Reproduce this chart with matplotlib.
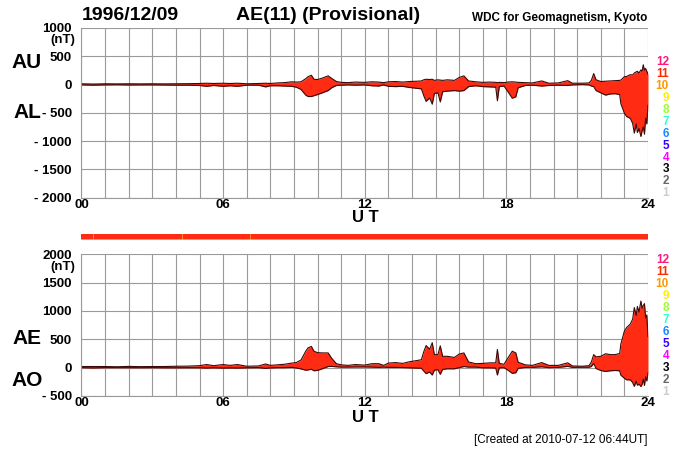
import matplotlib
matplotlib.use("Agg")
import matplotlib.pyplot as plt
import numpy as np

plt.rcParams['font.family'] = ['Liberation Sans', 'DejaVu Sans']

# --- data (UT hours, nT) ---
hours = [0.0, 0.5, 1.0, 1.5, 2.0, 2.5, 3.0, 3.5, 4.0, 4.5, 5.0, 5.3, 5.6, 6.0, 6.3,
         6.6, 7.0, 7.5, 7.8, 8.0, 8.3, 8.6, 8.9, 9.1, 9.3, 9.5, 9.6, 9.74, 9.85, 10.0,
         10.2, 10.45, 10.6, 10.8, 11.0, 11.3, 11.6, 12.0, 12.3, 12.6, 12.8, 13.0, 13.3, 13.6, 13.9,
         14.2, 14.4, 14.5, 14.6, 14.75, 14.86, 14.95, 15.1, 15.2, 15.3, 15.5, 15.8, 16.0, 16.2,
         16.4, 16.7, 17.0, 17.3, 17.55, 17.62, 17.7, 17.9, 18.05, 18.25, 18.4, 18.5, 18.8, 19.1,
         19.5, 19.8, 20.2, 20.6, 20.8, 21.2, 21.5, 21.6, 21.7, 21.8, 22.0, 22.2, 22.4, 22.6,
         22.8, 22.85, 23.0, 23.1, 23.25, 23.35, 23.42, 23.5, 23.55, 23.62, 23.7, 23.75, 23.8,
         23.85, 23.9, 23.95, 24.0]
au = [10, 5, 10, 8, 10, 8, 10, 8, 10, 12, 15, 20, 15, 20, 15,
      20, 10, 15, 20, 15, 25, 30, 45, 40, 45, 100, 135, 160, 90, 85,
      110, 150, 105, 50, 35, 30, 40, 35, 45, 40, 30, 45, 50, 40, 50,
      55, 60, 80, 90, 85, 90, 70, 80, 75, 70, 80, 70, 120, 150,
      60, 45, 35, 40, 35, 30, 35, 30, 40, 45, 40, 35, 30, 25,
      60, 20, 25, 65, 20, 20, 25, 70, 190, 80, 50, 55, 60, 65,
      70, 75, 135, 140, 170, 165, 200, 220, 230, 200, 255, 230, 345,
      250, 280, 230, 180]
al = [-10, -15, -10, -8, -12, -10, -10, -12, -15, -15, -20, -35, -20, -35, -25,
      -35, -15, -15, -45, -25, -25, -30, -35, -50, -90, -190, -215, -215, -200, -180,
      -150, -110, -60, -20, -15, -10, -15, -10, -25, -30, -10, -35, -40, -35, -55,
      -70, -80, -200, -300, -240, -350, -160, -150, -310, -130, -120, -110, -120, -110,
      -40, -25, -40, -45, -50, -290, -40, -30, -120, -245, -220, -60, -20, -15,
      -30, -20, -15, -20, -10, -5, -10, -30, -40, -110, -150, -190, -170, -165,
      -180, -340, -510, -570, -600, -690, -860, -700, -850, -780, -920, -820, -750,
      -880, -600, -700, -370]

ae = np.array(au) - np.array(al)
ao = (np.array(au) + np.array(al)) / 2

top_ticks = [1000, 500, 0, -500, -1000, -1500, -2000]
bot_ticks = [2000, 1500, 1000, 500, 0, -500]
x_ticks = [0, 6, 12, 18, 24]
x_labels = ['00', '06', '12', '18', '24']
level_labels = ['12', '11', '10', '9', '8', '7', '6', '5', '4', '3', '2', '1']
level_colors = ['#ff1a80', '#ff2a00', '#ff9900', '#ffee00', '#99ff33', '#33ffcc',
                '#1a8cff', '#3300ff', '#ff00ff', '#000000', '#666666', '#cccccc']
flag_hours = [0.49, 4.25, 7.13]

fill_c = '#ff2b12'
edge_c = '#3a0808'
grid_c = '#9a9a9a'


def ylab(v):
    return f"- {abs(v)}" if v < 0 else str(v)


def setup(ax, ticks):
    ax.set_xlim(0, 24)
    ax.set_ylim(ticks[-1], ticks[0])
    ax.set_xticks(x_ticks)
    ax.set_xticklabels(x_labels, fontsize=9.5, fontweight='bold')
    ax.set_xticks(range(25), minor=True)
    ax.set_yticks(ticks)
    ax.set_yticklabels([ylab(v) for v in ticks], fontsize=9.5, fontweight='bold')
    ax.tick_params(which='both', length=0)
    ax.tick_params(axis='y', pad=7)
    ax.tick_params(axis='x', pad=1)
    ax.grid(True, which='both', axis='x', color=grid_c, lw=0.8)
    ax.grid(True, which='major', axis='y', color=grid_c, lw=0.8)
    for s in ax.spines.values():
        s.set_color(grid_c)
    ax.spines['top'].set_visible(False)
    ax.spines['right'].set_visible(False)
    ax.set_axisbelow(True)


fig = plt.figure(figsize=(7, 4.5), dpi=100)

# top panel: AU / AL
ax1 = fig.add_axes([0.1164, 0.5607, 0.8093, 0.3778])
setup(ax1, top_ticks)
ax1.fill_between(hours, al, au, color=fill_c, lw=0)
ax1.plot(hours, au, color=edge_c, lw=0.8)
ax1.plot(hours, al, color=edge_c, lw=0.8)

# red status bar
axb = fig.add_axes([0.1164, 0.4667, 0.8093, 0.0133])
axb.set_xlim(0, 24)
axb.set_ylim(0, 1)
axb.axhspan(0, 1, color=fill_c)
for h in flag_hours:
    axb.axvline(h, color='#ff9a30', lw=0.6)
axb.set_xticks([])
axb.set_yticks([])
for s in axb.spines.values():
    s.set_visible(False)
axb.axhline(0, color='#bbbbbb', lw=1.2)

# bottom panel: AE / AO
ax2 = fig.add_axes([0.1164, 0.12, 0.8093, 0.3149])
setup(ax2, bot_ticks)
ax2.fill_between(hours, ao, ae, color=fill_c, lw=0)
ax2.plot(hours, ae, color=edge_c, lw=0.8)
ax2.plot(hours, ao, color=edge_c, lw=0.8)

# texts
bold = dict(fontweight='bold')
fig.text(82 / 700, 1 - 16 / 450, '1996/12/09', fontsize=14, va='center', **bold)
fig.text(236 / 700, 1 - 16 / 450, 'AE(11) (Provisional)', fontsize=14, va='center', **bold)
fig.text(647 / 700, 1 - 18 / 450, 'WDC for Geomagnetism, Kyoto', fontsize=8.5,
         ha='right', va='center', **bold)
fig.text(27 / 700, 1 - 62 / 450, 'AU', fontsize=15, ha='center', va='center', **bold)
fig.text(27 / 700, 1 - 113 / 450, 'AL', fontsize=15, ha='center', va='center', **bold)
fig.text(27 / 700, 1 - 339 / 450, 'AE', fontsize=15, ha='center', va='center', **bold)
fig.text(27 / 700, 1 - 381 / 450, 'AO', fontsize=15, ha='center', va='center', **bold)
fig.text(75 / 700, 1 - 40 / 450, '(nT)', fontsize=9.5, ha='right', va='center', **bold)
fig.text(75 / 700, 1 - 267 / 450, '(nT)', fontsize=9.5, ha='right', va='center', **bold)
fig.text(365 / 700, 1 - 218 / 450, 'U T', fontsize=12, ha='center', va='center', **bold)
fig.text(365 / 700, 1 - 417 / 450, 'U T', fontsize=12, ha='center', va='center', **bold)
fig.text(648 / 700, 1 - 440 / 450, '[Created at 2010-07-12 06:44UT]', fontsize=8.5,
         ha='right', va='center')

for i, (lab, col) in enumerate(zip(level_labels, level_colors)):
    fig.text(669 / 700, 1 - (62 + i * 11.94) / 450, lab, color=col, fontsize=8.5,
             ha='right', va='center', **bold)
    fig.text(669 / 700, 1 - (260 + i * 11.97) / 450, lab, color=col, fontsize=8.5,
             ha='right', va='center', **bold)

fig.savefig('out.png', dpi=100)
